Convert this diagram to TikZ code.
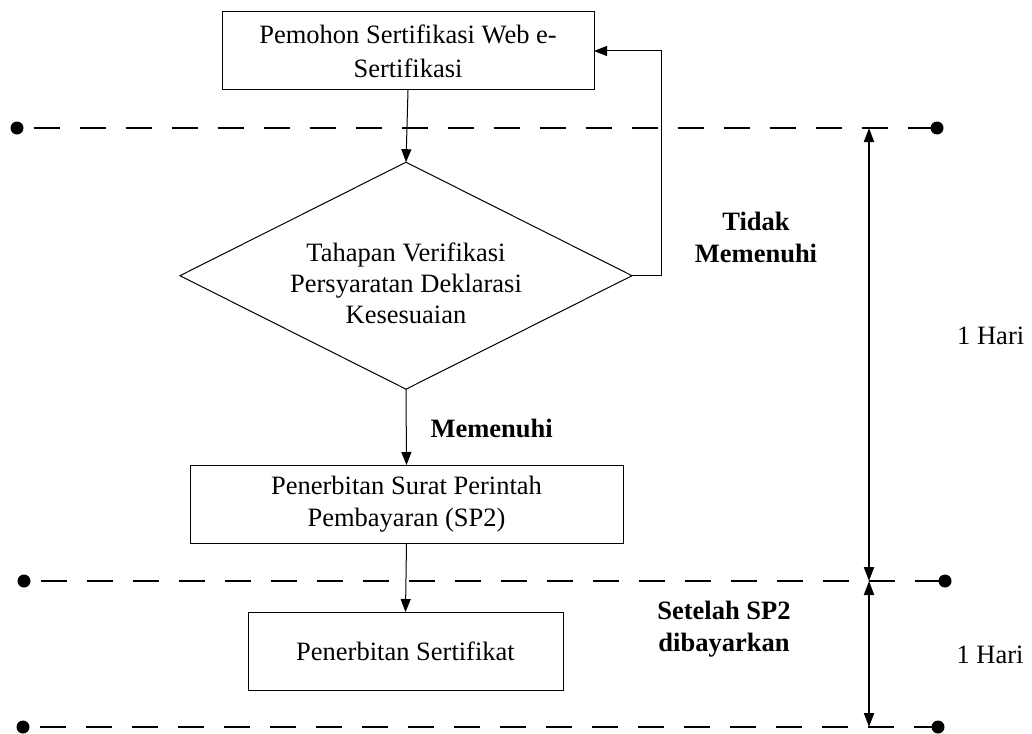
\documentclass[tikz,border=0pt]{standalone}
\usepackage{fontspec}
\setmainfont{Liberation Serif}
\usetikzlibrary{arrows.meta,shapes.geometric}
\begin{document}
\begin{tikzpicture}[x=1pt,y=-1pt,
  font=\fontsize{26.5}{32}\selectfont,
  box/.style={draw,line width=1pt,inner sep=0pt,outer sep=0pt,align=center},
  dia/.style={draw,diamond,aspect=2,line width=1pt,inner sep=0pt,outer sep=0pt,minimum width=452pt,minimum height=227pt},
  flow/.style={line width=1pt,-{Triangle[length=13pt,width=10pt]}},
  dashline/.style={line width=2pt,dash pattern=on 26pt off 20pt,dash phase=-10pt},
  dim/.style={line width=2pt,{Triangle[length=14pt,width=10pt]}-{Triangle[length=14pt,width=10pt]}},
  lbl/.style={font=\fontsize{26.5}{32}\selectfont\bfseries,align=center},
  dot/.style={circle,fill,inner sep=0pt,outer sep=0pt,minimum size=13pt}]
\useasboundingbox (0,0) rectangle (1032,733);

% flow boxes
\node[box,minimum width=372pt,minimum height=78pt] (b1) at (408,51) {Pemohon Sertifikasi Web e-\\[2pt]Sertifikasi};
\node[dia] (d) at (406,275.7) {};
\node[align=center,font=\fontsize{26.5}{31}\selectfont] (dt) at (406,283) {Tahapan Verifikasi\\Persyaratan Deklarasi\\Kesesuaian};
\node[box,minimum width=433pt,minimum height=78pt] (b2) at (406.5,504) {Penerbitan Surat Perintah\\Pembayaran (SP2)};
\node[box,minimum width=315pt,minimum height=78pt] (b3) at (405.5,651) {Penerbitan Sertifikat};

% connectors
\draw[flow] (b1.south) -- (d.north);
\draw[flow] (d.south) -- (b2.north);
\draw[flow] (b2.south) -- (b3.north);
\draw[flow] (d.east) -- ++(29,0) |- (b1.east);

% dashed time lines
\node[dot] (l1a) at (17,128) {};
\node[dot] (l1b) at (937,128) {};
\node[dot] (l2a) at (24,581) {};
\node[dot] (l2b) at (945,581) {};
\node[dot] (l3a) at (23,727) {};
\node[dot] (l3b) at (938,727) {};
\draw[dashline] (l1a) -- (l1b);
\draw[dashline] (l2a) -- (l2b);
\draw[dashline] (l3a) -- (l3b);

% duration arrows
\coordinate (v1) at (869,128);
\coordinate (v2) at (869,581);
\coordinate (v3) at (869,727);
\draw[dim] (v1) -- (v2);
\draw[dim] (v2) -- (v3);

% labels
\node[lbl] (tm) at (756,237) {Tidak\\Memenuhi};
\node[lbl,anchor=base] (mm) at (491.7,437) {Memenuhi};
\node[lbl] (sd) at (724,629) {Setelah SP2\\dibayarkan};
\node[anchor=base] (h1) at (990.7,344) {1 Hari};
\node[anchor=base] (h2) at (990,663) {1 Hari};
\end{tikzpicture}
\end{document}
